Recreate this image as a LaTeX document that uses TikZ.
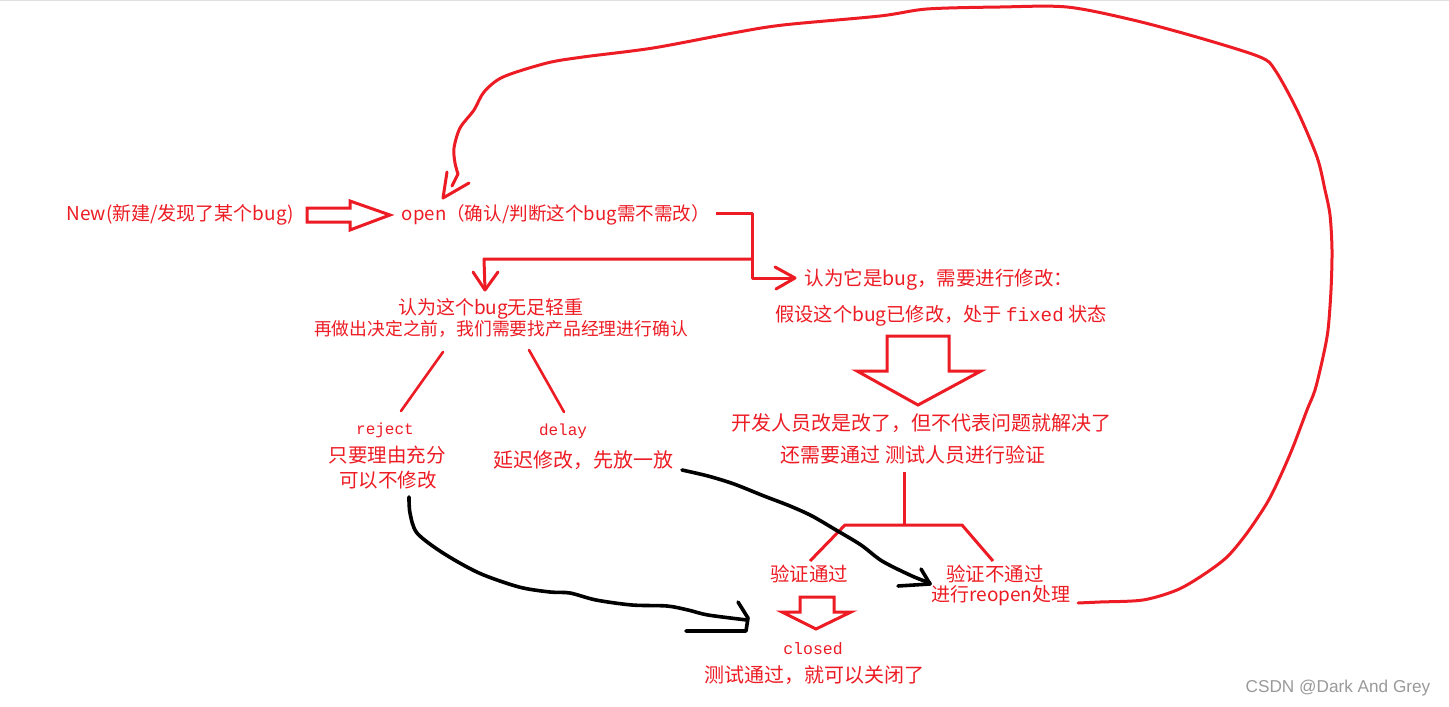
\documentclass[tikz,border=0pt]{standalone}
\usepackage{fontspec}
\setmainfont{Noto Sans CJK SC}
\newfontfamily\monof{Liberation Mono}
\newfontfamily\wmf{Liberation Sans}
\usetikzlibrary{arrows.meta}
\definecolor{pred}{HTML}{ED1C24}
\definecolor{wmgray}{HTML}{9A9A9A}
\tikzset{
  txt/.style={text=pred, inner sep=0pt, anchor=center},
  fs/.style={font=\fontsize{#1}{#1}\selectfont},
  mono/.style={font=\monof\fontsize{#1}{#1}\selectfont},
  redline/.style={draw=pred, line width=3pt, line join=round},
  thinred/.style={draw=pred, line width=2.6pt, line cap=round},
  blkline/.style={draw=black, line width=3.6pt, line cap=round, line join=round},
  hollow/.style={draw=pred, line width=3pt, fill=white, line join=miter}
}
\begin{document}
\begin{tikzpicture}[x=1pt,y=-1pt]
\useasboundingbox (0,0) rectangle (1449,707);
\fill[white] (0,0) rectangle (1449,707);
\draw[gray!25, line width=1.2pt] (0,0.6) -- (1449,0.6);

% ---- texts ----
\node[txt, fs=19] (new) at (180,215) {New(新建/发现了某个bug)};
\node[txt, fs=18.6] (open) at (556,215) {open（确认/判断这个bug需不需改）};
\node[txt, fs=19] (minor1) at (491,309) {认为这个bug无足轻重};
\node[txt, fs=17.8] (minor2) at (501,329) {再做出决定之前，我们需要找产品经理进行确认};
\node[txt, mono=16] (reject) at (385,430) {reject};
\node[txt, fs=19.5] (rj1) at (387,455) {只要理由充分};
\node[txt, fs=19.5] (rj2) at (388,480) {可以不修改};
\node[txt, mono=16] (delay) at (563,431) {delay};
\node[txt, fs=20] (dl1) at (583,460) {延迟修改，先放一放};
\node[txt, fs=19.5] (fix1) at (939,280) {认为它是bug，需要进行修改：};
\node[txt, fs=19.2] (fix2) at (941,316) {假设这个bug已修改，处于 {\monof fixed} 状态};
\node[txt, fs=20] (dev1) at (921,423) {开发人员改是改了，但不代表问题就解决了};
\node[txt, fs=20] (dev2) at (913,455) {还需要通过 测试人员进行验证};
\node[txt, fs=19.5] (pass) at (809,574) {验证通过};
\node[txt, fs=19.5] (fail1) at (995,574) {验证不通过};
\node[txt, fs=19] (fail2) at (1001,596) {进行reopen处理};
\node[txt, mono=16.5] (closed) at (813,649) {closed};
\node[txt, fs=20] (closed2) at (814,675) {测试通过，就可以关闭了};
\node[inner sep=0pt, text=wmgray, font=\wmf\fontsize{17.2}{17.2}\selectfont] (wm) at (1338,688) {CSDN @Dark And Grey};

% ---- hollow arrows ----
\draw[hollow] (307,208) -- (350,208) -- (350,201) -- (390,215) -- (350,230) -- (350,222) -- (307,222) -- cycle;
\draw[hollow] (887,336) -- (949,336) -- (949,371) -- (981,371) -- (918,405) -- (857,371) -- (887,371) -- cycle;
\draw[hollow] (800,597) -- (834,597) -- (834,612) -- (851,612) -- (816,629) -- (782,612) -- (800,612) -- cycle;

% ---- open branches ----
\coordinate (j0) at (716,213);
\coordinate (j1) at (752,213);
\coordinate (j2) at (752,259);
\coordinate (j3) at (752,278);
\coordinate (tipR) at (795,278);
\coordinate (jL) at (484,259);
\coordinate (tipL) at (485,290);
\draw[redline] (j0) -- (j1) -- (j3) -- (tipR);
\draw[redline] (j2) -- (jL) -- (tipL);
\draw[redline, line cap=round] (775,267) -- (tipR) -- (776,289);
\draw[redline, line cap=round] (473,272) -- (tipL) -- (498,272);

% ---- minor branches ----
\coordinate (m1) at (443,352);
\coordinate (m2) at (401,411);
\coordinate (m3) at (529,350);
\coordinate (m4) at (564,412);
\draw[thinred] (m1) -- (m2);
\draw[thinred] (m3) -- (m4);

% ---- verification fork ----
\coordinate (f0) at (904,472);
\coordinate (f1) at (904,525);
\coordinate (fl) at (845,525);
\coordinate (fr) at (962,525);
\coordinate (fl2) at (810,561);
\coordinate (fr2) at (993,561);
\draw[redline] (f0) -- (f1);
\draw[redline] (fl2) -- (fl) -- (fr) -- (fr2);

% ---- reopen loop ----
\coordinate (lp0) at (1078,603);
\coordinate (lpE) at (458,174);
\coordinate (lpA) at (443,198);
\draw[redline, line cap=round] plot[smooth, tension=0.5] coordinates {
 (1078,603) (1100,602) (1143,600) (1177,590) (1203,575) (1227,557) (1247,533)
 (1267,503) (1280,477) (1293,447) (1307,410) (1315,390) (1323,357) (1328,330)
 (1331,290) (1332,250) (1330,215) (1325,190) (1317,157) (1297,110) (1275,70)
 (1260,57) (1200,38) (1133,20) (1067,7) (1000,7) (927,9) (880,16) (783,25)
 (733,33) (653,48) (583,57) (547,63) (503,77) (484,92) (474,110) (460,128)
 (454,148) (455,163) (458,174)};
\draw[redline, line cap=round] (lpE) -- (452,186);
\draw[redline, line cap=round] (447,172) -- (lpA) -- (469,183);

% ---- black curves ----
\coordinate (rjS) at (409,497);
\coordinate (rjE) at (747,620);
\draw[blkline] plot[smooth, tension=0.5] coordinates {
 (409,497) (410,513) (417,533) (443,553) (479,573) (519,587) (550,592)
 (570,593) (596,600) (632,605) (667,606) (688,610) (708,615) (747,620)};
\draw[blkline] (738,602) -- (748,618) -- (746,631) -- (686,631);

\coordinate (dlS) at (682,470);
\coordinate (dlE) at (930,583);
\draw[blkline] plot[smooth, tension=0.5] coordinates {
 (682,470) (708,476) (734,484) (764,496) (790,506) (812,516) (836,530)
 (861,545) (882,561) (912,576) (930,583)};
\draw[blkline] (921,569) -- (930,584) -- (898,586);
\end{tikzpicture}
\end{document}
